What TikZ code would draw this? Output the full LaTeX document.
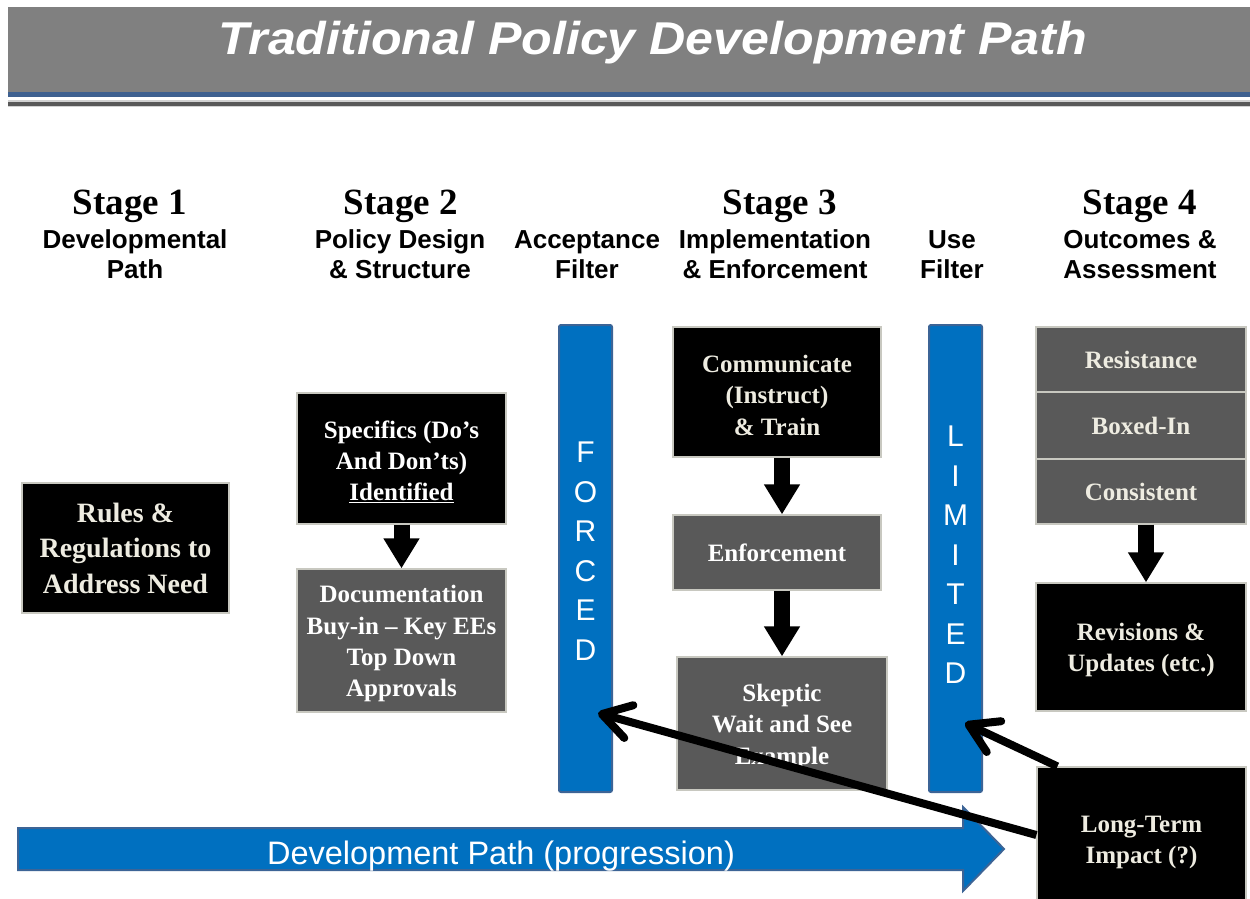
\documentclass[tikz,border=0pt]{standalone}
\usepackage{fontspec}
\setmainfont{Liberation Serif}
\newfontfamily\arial{Liberation Sans}
\usetikzlibrary{arrows.meta,calc}
\definecolor{titlegray}{HTML}{808080}
\definecolor{boxgray}{HTML}{595959}
\definecolor{cream}{HTML}{EEECE1}
\definecolor{pblue}{HTML}{0070C0}
\definecolor{pbluedark}{HTML}{3C6496}
\definecolor{rulegray}{HTML}{C8C8C0}
\definecolor{lineblue}{HTML}{3F6190}
\newcommand{\tup}{\rule{0pt}{24pt}}
\begin{document}
\begin{tikzpicture}[x=1pt,y=-1pt,
  blackbox/.style={fill=black, draw=rulegray, line width=1.2pt, inner sep=0pt, align=center, text=cream, font=\fontsize{25}{31.3}\selectfont\bfseries},
  graybox/.style={blackbox, fill=boxgray},
  whitetext/.style={text=white},
  bar/.style={fill=pblue, draw=pbluedark, line width=2pt, rounded corners=2pt, inner sep=0pt, minimum width=53pt, minimum height=467pt},
  barletters/.style={text=white, font=\arial\fontsize{30}{39.5}\selectfont, align=center, inner sep=0pt},
  stagehead/.style={font=\fontsize{37}{40}\selectfont\bfseries, inner sep=0pt, anchor=base},
  stagesub/.style={font=\arial\bfseries\fontsize{26}{30}\selectfont, align=center, inner sep=0pt},
  flowarrow/.style={line width=16pt, -{Triangle[length=30pt,width=34pt]}},
  longarrow/.style={line width=8pt, -{Straight Barb[length=28pt,width=34pt,round]}}
]
\path[use as bounding box, clip] (0,0) rectangle (1250,899);
\fill[white] (0,0) rectangle (1250,899);
% title bar
\fill[titlegray] (8,7) rectangle (1250,92);
\fill[lineblue] (8,92) rectangle (1250,96.5);
\fill[gray!35] (8,100) rectangle (1250,107);
\fill[black!65] (8,101.5) rectangle (1250,105.5);
\node[anchor=base, inner sep=0pt, text=white, font=\arial\bfseries\itshape\fontsize{46}{50}\selectfont] (title) at (653,55) {\scalebox{1.09}[1]{Traditional Policy Development Path}};
% stage headings
\node[stagehead] (s1) at (130,214) {Stage 1};
\node[stagehead] (s2) at (401,214) {Stage 2};
\node[stagehead] (s3) at (780,214) {Stage 3};
\node[stagehead] (s4) at (1140,214) {Stage 4};
\node[stagesub] (h1) at (135,254.5) {Developmental\\Path};
\node[stagesub] (h2) at (400,254.5) {Policy Design\\\& Structure};
\node[stagesub] (h3) at (587,254.5) {Acceptance\\Filter};
\node[stagesub] (h4) at (775,254.5) {Implementation\\\& Enforcement};
\node[stagesub] (h5) at (952,254.5) {Use\\Filter};
\node[stagesub] (h6) at (1140,254.5) {Outcomes \&\\Assessment};
% filter bars
\node[bar] (forced) at (585.5,558.5) {};
\node[barletters] (forcedtxt) at (585.5,551) {F\\O\\R\\C\\E\\D};
\node[bar] (limited) at (955.5,558.5) {};
\node[barletters] (limitedtxt) at (955.5,555) {L\\I\\M\\I\\T\\E\\D};
% boxes
\node[blackbox, minimum width=207pt, minimum height=130pt, font=\fontsize{28}{35.5}\selectfont\bfseries] (rules) at (125.5,548) {Rules \&\\Regulations to\\Address Need};
\node[blackbox, whitetext, minimum width=209pt, minimum height=131pt] (spec) at (401.5,458.5) {\tup Specifics (Do’s\\And Don’ts)\\\underline{Identified}};
\node[graybox, whitetext, minimum width=209pt, minimum height=143pt] (doc) at (401.5,640.5) {\tup Documentation\\Buy-in – Key EEs\\Top Down\\Approvals};
\node[blackbox, minimum width=208pt, minimum height=130pt] (comm) at (777,392) {\tup Communicate\\(Instruct)\\\& Train};
\node[graybox, whitetext, minimum width=208pt, minimum height=75pt] (enf) at (777,552.5) {Enforcement};
\node[graybox, whitetext, minimum width=210pt, minimum height=133pt] (skep) at (782,723.5) {\tup Skeptic\\Wait and See\\Example};
\node[graybox, minimum width=210pt, minimum height=65pt] (res) at (1141,359.5) {Resistance};
\node[graybox, minimum width=210pt, minimum height=67pt] (boxed) at (1141,425.5) {Boxed-In};
\node[graybox, minimum width=210pt, minimum height=65pt] (cons) at (1141,491.5) {Consistent};
\node[blackbox, minimum width=210pt, minimum height=128pt] (rev) at (1141,647) {\tup Revisions \&\\Updates (etc.)};
\node[blackbox, minimum width=209pt, minimum height=144pt] (lt) at (1141.5,839) {\tup Long-Term\\Impact (?)};
% development path arrow
\path[fill=pblue, draw=pbluedark, line width=2pt, line join=miter]
  (18,828) -- (963,828) -- (963,807) -- (1004,849) -- (963,891) -- (963,870) -- (18,870) -- cycle;
\node[text=white, inner sep=0pt, font=\arial\fontsize{32.5}{36}\selectfont] (devtxt) at (501,856.5) {Development Path (progression)};
% flow arrows
\draw[flowarrow] (spec.south) -- (doc.north);
\draw[flowarrow] ([xshift=5pt]comm.south) -- ([xshift=5pt]enf.north);
\draw[flowarrow] (enf.south -| skep.north) -- (skep.north);
\draw[flowarrow] ([xshift=5pt]cons.south) -- ([xshift=5pt]rev.north);
% long-term arrows
\coordinate (ftip) at (598,713);
\coordinate (ltip) at (965,723);
\draw[longarrow] ([yshift=4pt]lt.west) -- (ftip);
\draw[longarrow] ($(lt.north west)!0.1!(lt.north east)$) -- (ltip);
\end{tikzpicture}
\end{document}
